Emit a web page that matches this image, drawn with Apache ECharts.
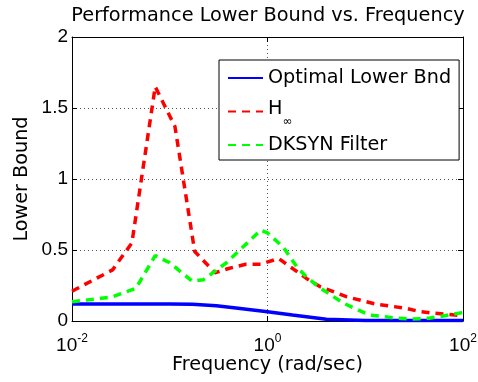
<!DOCTYPE html>
<html>
<head>
<meta charset="utf-8">
<script src="https://cdn.jsdelivr.net/npm/echarts@6/dist/echarts.min.js"></script>
<style>
    html, body { margin: 0; padding: 0; background: #fff; }
    #main { width: 478px; height: 382px; }
</style>
</head>
<body>
<div id="main"></div>
<script>
    var TEXT_FONT = '"DejaVu Sans", sans-serif';
    var TICK_FONT = '"Liberation Sans", Arial, sans-serif';

    // 曲线数据 (频率 rad/sec, 下界)
    var optFreq = [0.01, 0.05, 0.1, 0.17, 0.3, 0.5, 1.0, 1.8, 4, 10, 100];
    var optVal = [0.12, 0.12, 0.12, 0.118, 0.108, 0.09, 0.065, 0.042, 0.012, 0.004, 0.003];

    var hinfFreq = [0.01, 0.026, 0.041, 0.071, 0.113, 0.18, 0.29, 0.4, 0.6, 0.85, 1.3, 2.5, 3.5, 6.5, 13, 26, 35, 50, 70, 100];
    var hinfVal = [0.21, 0.36, 0.55, 1.65, 1.37, 0.49, 0.34, 0.37, 0.40, 0.40, 0.44, 0.30, 0.24, 0.17, 0.118, 0.09, 0.068, 0.055, 0.047, 0.037];

    var dkFreq = [0.01, 0.026, 0.045, 0.071, 0.1, 0.17, 0.22, 0.38, 0.62, 0.85, 1.0, 1.45, 2.0, 2.5, 3.5, 6.0, 11, 20, 30, 45, 65, 100];
    var dkVal = [0.135, 0.17, 0.23, 0.46, 0.41, 0.28, 0.29, 0.41, 0.55, 0.64, 0.62, 0.52, 0.38, 0.31, 0.23, 0.125, 0.042, 0.022, 0.013, 0.02, 0.037, 0.06];

    var seriesNames = ['Optimal Lower Bnd', 'H∞', 'DKSYN Filter'];

    function pairs(xs, ys) {
        return xs.map(function (x, i) { return [x, ys[i]]; });
    }

    var chart = echarts.init(document.getElementById('main'), null, { renderer: 'canvas' });

    var gridLine = { show: true, lineStyle: { color: '#555', width: 1, type: [1, 3] } };
    var boxLine = { show: true, onZero: false, lineStyle: { color: '#000', width: 1 } };
    var tick = { show: true, inside: true, length: 5, lineStyle: { color: '#000' } };

    function xAxis(pos, labels) {
        return {
            type: 'log',
            logBase: 10,
            position: pos,
            min: 0.01,
            max: 100,
            splitNumber: 2,
            interval: 2,
            axisLine: boxLine,
            axisTick: tick,
            splitLine: labels ? gridLine : { show: false },
            axisLabel: labels ? {
                show: true,
                margin: 7,
                formatter: function (v) {
                    var e = Math.round(Math.log(v) / Math.LN10);
                    return '{b|10}{s|' + e + '}';
                },
                rich: {
                    b: { fontFamily: TICK_FONT, fontSize: 19, color: '#000', padding: [8, 0, 0, 0] },
                    s: { fontFamily: TICK_FONT, fontSize: 12, color: '#000', padding: [0, 0, 6, 0] }
                }
            } : { show: false },
            name: labels ? 'Frequency (rad/sec)' : '',
            nameLocation: 'middle',
            nameGap: 35,
            nameMoveOverlap: false,
            nameTextStyle: { fontFamily: TEXT_FONT, fontSize: 19.2, color: '#000' }
        };
    }

    function yAxis(pos, labels) {
        return {
            type: 'value',
            position: pos,
            min: 0,
            max: 2,
            interval: 0.5,
            axisLine: boxLine,
            axisTick: tick,
            splitLine: labels ? gridLine : { show: false },
            axisLabel: labels ? {
                show: true,
                margin: 4,
                fontFamily: TICK_FONT,
                fontSize: 19,
                color: '#000',
                formatter: function (v) { return String(v); }
            } : { show: false },
            name: labels ? 'Lower Bound' : '',
            nameLocation: 'middle',
            nameGap: 40,
            nameMoveOverlap: false,
            nameTextStyle: { fontFamily: TEXT_FONT, fontSize: 19.2, color: '#000' }
        };
    }

    var option = {
        animation: false,
        backgroundColor: '#fff',
        title: {
            text: 'Performance Lower Bound vs. Frequency',
            left: 268,
            textAlign: 'center',
            top: 6,
            padding: 0,
            textStyle: { fontFamily: TEXT_FONT, fontSize: 19.3, fontWeight: 'normal', color: '#000' }
        },
        grid: { left: 72, right: 15, top: 37, bottom: 61, outerBoundsMode: 'none' },
        legend: {
            orient: 'vertical',
            left: 219,
            top: 60,
            padding: [3, 8, 0, 8],
            itemGap: 2,
            itemWidth: 35,
            // 行高由(隐藏的)图例符号撑开, 三行等高
            itemHeight: 37.5,
            backgroundColor: '#fff',
            borderColor: '#000',
            borderWidth: 1,
            borderRadius: 0,
            itemStyle: { opacity: 0 },
            data: seriesNames,
            formatter: function (name) {
                if (name === 'H∞') return '{h|H}{sub|∞}';
                return '{t|' + name + '}';
            },
            textStyle: {
                fontFamily: TEXT_FONT,
                fontSize: 19.2,
                color: '#000',
                rich: {
                    t: { fontFamily: TEXT_FONT, fontSize: 19.2, color: '#000', lineHeight: 20 },
                    h: { fontFamily: TEXT_FONT, fontSize: 19.2, color: '#000', lineHeight: 20, padding: [0, 0, 5, 0] },
                    sub: { fontFamily: TEXT_FONT, fontSize: 12, color: '#000', lineHeight: 20, padding: [21, 0, 0, 0] }
                }
            }
        },
        xAxis: [xAxis('bottom', true), xAxis('top', false)],
        yAxis: [yAxis('left', true), yAxis('right', false)],
        series: [
            {
                name: seriesNames[0], type: 'line', symbol: 'none', showSymbol: false,
                lineStyle: { color: '#0000ff', width: 3.5 }, itemStyle: { color: '#0000ff' },
                data: pairs(optFreq, optVal)
            },
            {
                name: seriesNames[1], type: 'line', symbol: 'none', showSymbol: false,
                lineStyle: { color: '#ff0000', width: 3.5, type: [8, 6] }, itemStyle: { color: '#ff0000' },
                data: pairs(hinfFreq, hinfVal)
            },
            {
                name: seriesNames[2], type: 'line', symbol: 'none', showSymbol: false,
                lineStyle: { color: '#00ff00', width: 3.5, type: [8, 6] }, itemStyle: { color: '#00ff00' },
                data: pairs(dkFreq, dkVal)
            }
        ]
    };

    chart.setOption(option);
</script>
</body>
</html>
